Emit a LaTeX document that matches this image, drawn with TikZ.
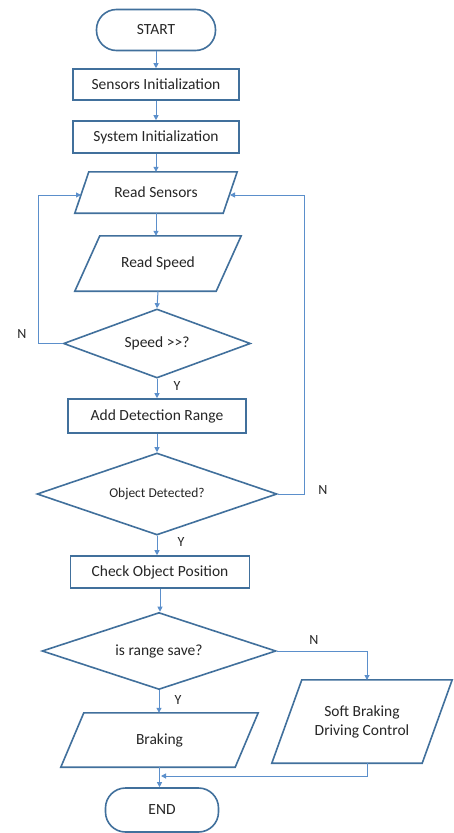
\documentclass[tikz,border=0pt]{standalone}
\usepackage{fontspec}
\setmainfont{Carlito}
\usetikzlibrary{shapes.geometric,arrows.meta}
\definecolor{boxblue}{HTML}{41709C}
\definecolor{lineblue}{HTML}{5B8FCB}
\definecolor{txt}{HTML}{262626}
\tikzset{
  box/.style={draw=boxblue,line width=1.6pt,rectangle,text=txt,inner sep=0pt,font=\fontsize{15.5}{18}\selectfont},
  term/.style={box,rounded corners=20pt},
  dec/.style={draw=boxblue,line width=1.6pt,diamond,inner sep=0pt},
  dectext/.style={text=txt,inner sep=0pt,font=\fontsize{15.5}{18}\selectfont},
  iobox/.style={rectangle,text=txt,inner sep=0pt,align=center,font=\fontsize{15.5}{19}\selectfont},
  outline/.style={draw=boxblue,line width=1.6pt,line join=miter},
  arr/.style={draw=lineblue,line width=1pt,-{Triangle[length=5pt,width=5pt]}},
  lab/.style={text=txt,font=\fontsize{14}{16}\selectfont}
}
\newcommand{\para}[2]{\draw[outline] ([xshift=#2]#1.north west) -- (#1.north east) -- ([xshift=-#2]#1.south east) -- (#1.south west) -- cycle;}
\begin{document}
\begin{tikzpicture}[x=1pt,y=-1pt]
\useasboundingbox[fill=white] (0,0) rectangle (453,833);
% nodes
\node[term,minimum width=119pt,minimum height=41pt] (start) at (156,30) {START};
\node[box,minimum width=166pt,minimum height=31pt] (si) at (156,84.5) {Sensors Initialization};
\node[box,minimum width=166pt,minimum height=32pt] (sys) at (156,137) {System Initialization};
\node[iobox,minimum width=162pt,minimum height=41pt] (rs) at (156,192.5) {Read Sensors};
\para{rs}{14pt}
\node[iobox,minimum width=166pt,minimum height=55pt] (rsp) at (158,263.5) {Read Speed};
\para{rsp}{25pt}
\node[dec,minimum width=187pt,minimum height=69pt,label={[dectext]center:Speed >\kern0pt>?}] (spd) at (157,343.5) {};
\node[box,minimum width=178pt,minimum height=34pt] (adr) at (157,416) {Add Detection Range};
\node[dec,minimum width=240pt,minimum height=82pt,label={[dectext,font=\fontsize{13.5}{16}\selectfont]center:Object Detected?}] (od) at (157,494) {};
\node[box,minimum width=179pt,minimum height=32pt] (cop) at (160,572) {Check Object Position};
\node[dec,minimum width=234pt,minimum height=77pt,label={[dectext]center:is range save?}] (rng) at (159,651) {};
\node[iobox,minimum width=197pt,minimum height=54pt] (brk) at (159.5,740) {Braking};
\para{brk}{23pt}
\node[iobox,minimum width=180pt,minimum height=83pt] (sb) at (362,721.5) {Soft Braking\\Driving Control};
\para{sb}{30pt}
\node[term,minimum width=113pt,minimum height=44pt] (end) at (162,810) {END};
% coordinates
\coordinate (rsL) at (81,195);
\coordinate (rsR) at (230,195);
\coordinate (sbT) at (367,680);
\coordinate (sbB) at (367,763);
\coordinate (join) at (161,776);
% connectors
\draw[arr] (start.south) -- (si.north);
\draw[arr] (si.south) -- (sys.north);
\draw[arr] (sys.south) -- (rs.north);
\draw[arr] (rs.south) -- (rs.south |- rsp.north);
\draw[arr] (rsp.north |- rsp.south) -- (spd.north);
\draw[arr] (spd.south) -- (adr.north);
\draw[arr] (adr.south) -- (od.north);
\draw[arr] (od.south) -- (od.south |- cop.north);
\draw[arr] (cop.south) -- (cop.south |- rng.north);
\draw[arr] (rng.south) -- (rng.south |- brk.north);
\draw[arr] (spd.west) -- (38,343.5) |- (rsL);
\draw[arr] (od.east) -- (304,494) |- (rsR);
\draw[arr] (rng.east) -| (sbT);
\draw[arr] (sbB) |- (join);
\draw[arr] (brk.south) -- (brk.south |- end.north);
% labels
\node[lab] (n1) at (22,334) {N};
\node[lab] (y1) at (177,386) {Y};
\node[lab] (n2) at (323,490) {N};
\node[lab] (y2) at (181,542) {Y};
\node[lab] (n3) at (314,640) {N};
\node[lab] (y3) at (178,700) {Y};
\end{tikzpicture}
\end{document}
